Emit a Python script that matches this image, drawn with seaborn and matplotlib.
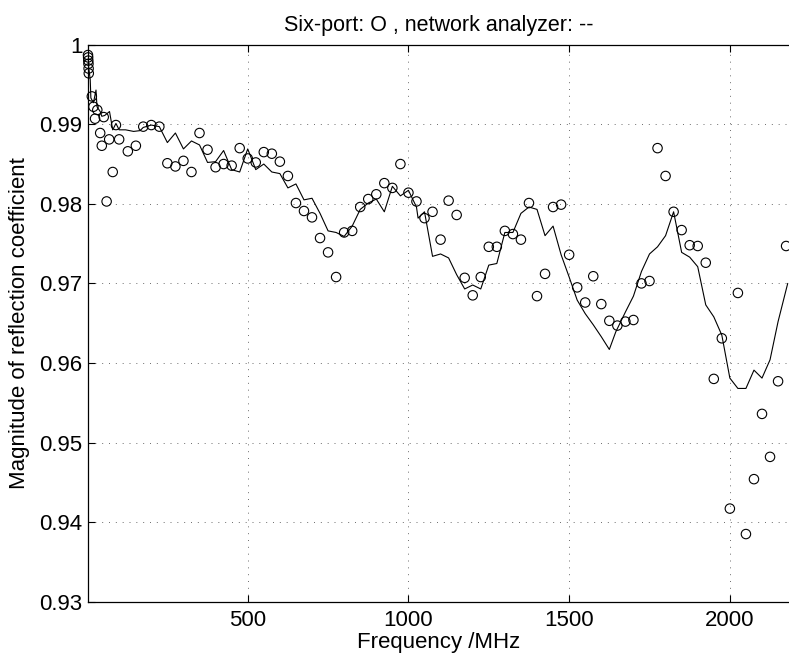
import matplotlib
matplotlib.use("Agg")
import matplotlib.pyplot as plt
import seaborn as sns

# -----------------------------
# DATA
# -----------------------------
# six-port measurement, drawn as open circles
sixport_freq = [3, 3.5, 4, 4.5, 5, 5.5, 15, 20, 25, 32, 41, 46, 52, 61, 69, 80, 90, 100, 127, 152,
                175, 200, 225, 250, 275, 300, 325, 350, 375, 400, 425, 450, 475, 500, 525, 550,
                575, 600, 625, 650, 675, 700, 725, 750, 775, 800, 825, 850, 875, 900, 925, 950,
                975, 1000, 1025, 1050, 1075, 1100, 1125, 1150, 1175, 1200, 1225, 1250, 1275, 1300,
                1325, 1350, 1375, 1400, 1425, 1450, 1475, 1500, 1525, 1550, 1575, 1600, 1625, 1650,
                1675, 1700, 1725, 1750, 1775, 1800, 1825, 1850, 1875, 1900, 1925, 1950, 1975, 2000,
                2025, 2050, 2075, 2100, 2125, 2150, 2175]
sixport_mag = [0.9987, 0.9984, 0.9980, 0.9976, 0.9970, 0.9964, 0.9935, 0.9922, 0.9907, 0.9918,
               0.9889, 0.9873, 0.9909, 0.9803, 0.9881, 0.9840, 0.9899, 0.9881, 0.9866, 0.9873,
               0.9897, 0.9899, 0.9897, 0.9851, 0.9847, 0.9854, 0.9840, 0.9889, 0.9868, 0.9846,
               0.9850, 0.9848, 0.9870, 0.9857, 0.9852, 0.9865, 0.9863, 0.9853, 0.9835, 0.9801,
               0.9791, 0.9783, 0.9757, 0.9739, 0.9708, 0.9764, 0.9766, 0.9796, 0.9806, 0.9812,
               0.9826, 0.9820, 0.9850, 0.9814, 0.9803, 0.9782, 0.9790, 0.9755, 0.9804, 0.9786,
               0.9707, 0.9685, 0.9708, 0.9746, 0.9746, 0.9766, 0.9762, 0.9755, 0.9801, 0.9684,
               0.9712, 0.9796, 0.9799, 0.9736, 0.9695, 0.9676, 0.9709, 0.9674, 0.9653, 0.9647,
               0.9652, 0.9654, 0.9700, 0.9703, 0.9870, 0.9835, 0.9790, 0.9767, 0.9748, 0.9747,
               0.9726, 0.9580, 0.9631, 0.9417, 0.9688, 0.9385, 0.9454, 0.9536, 0.9482, 0.9577,
               0.9747]

# network analyzer, drawn as solid line
na_freq = [3, 5, 10, 12, 20, 28, 31, 41, 46, 55, 70, 80, 90, 100, 120, 145, 165,
           175, 200, 225, 250, 275, 300, 325, 350, 375, 400, 425, 450, 475, 500, 525,
           550, 575, 600, 625, 650, 675, 700, 725, 750, 775, 800, 825, 850, 875, 900,
           925, 950, 975, 1000, 1025, 1030, 1050, 1075, 1100, 1125, 1150, 1175, 1200,
           1225, 1250, 1275, 1300, 1325, 1350, 1375, 1400, 1425, 1450, 1475, 1500, 1525,
           1550, 1575, 1600, 1625, 1645, 1675, 1700, 1725, 1750, 1775, 1800, 1825, 1850,
           1875, 1900, 1925, 1950, 1975, 2000, 2025, 2050, 2075, 2100, 2125, 2150, 2180]
na_mag = [0.9988, 0.9972, 0.9956, 0.9933, 0.9927, 0.9943, 0.9922, 0.9916, 0.9910, 0.9911,
          0.9916, 0.9893, 0.9901, 0.9893, 0.9893, 0.9891, 0.9892,
          0.9896, 0.9899, 0.9897, 0.9877, 0.9889, 0.9869, 0.9879, 0.9874, 0.9852, 0.9853,
          0.9867, 0.9843, 0.9840, 0.9869, 0.9843, 0.9850, 0.9840, 0.9838, 0.9820, 0.9825,
          0.9805, 0.9807, 0.9788, 0.9766, 0.9764, 0.9759, 0.9772, 0.9793, 0.9801, 0.9806,
          0.9790, 0.9822, 0.9810, 0.9817, 0.9796, 0.9782, 0.9790, 0.9734, 0.9737, 0.9732,
          0.9711, 0.9693, 0.9698, 0.9693, 0.9723, 0.9725, 0.9764, 0.9764, 0.9788, 0.9796,
          0.9793, 0.9760, 0.9772, 0.9736, 0.9708, 0.9679, 0.9662, 0.9648, 0.9633, 0.9617,
          0.9639, 0.9664, 0.9684, 0.9715, 0.9737, 0.9746, 0.9760, 0.9790, 0.9739, 0.9733,
          0.9721, 0.9673, 0.9658, 0.9635, 0.9581, 0.9568, 0.9568, 0.9591, 0.9581, 0.9604,
          0.9652, 0.9700]

x_ticks = [500, 1000, 1500, 2000]
y_ticks = [0.93, 0.94, 0.95, 0.96, 0.97, 0.98, 0.99, 1.0]
y_tick_labels = ["0.93", "0.94", "0.95", "0.96", "0.97", "0.98", "0.99", "1"]

# -----------------------------
# STYLE
# -----------------------------
sns.set_theme(style="white")
plt.rcParams['font.family'] = ['Liberation Sans', 'DejaVu Sans']
plt.rcParams['text.color'] = 'black'
plt.rcParams['axes.labelcolor'] = 'black'
FS = 16

fig = plt.figure(figsize=(7.89, 6.62), dpi=100)
ax = fig.add_axes([0.1115, 0.0911, 0.8885, 0.8414])

# -----------------------------
# PLOT
# -----------------------------
sns.lineplot(x=na_freq, y=na_mag, color="black", linewidth=0.8,
             sort=False, estimator=None, ax=ax)
sns.scatterplot(x=sixport_freq, y=sixport_mag, marker="o", s=46,
                facecolors="none", edgecolor="black", linewidth=0.8,
                clip_on=False, zorder=3, ax=ax)

ax.set_xlim(3, 2184)
ax.set_ylim(0.93, 1.0)
ax.set_xticks(x_ticks)
ax.set_xticklabels([str(t) for t in x_ticks])
ax.set_yticks(y_ticks)
ax.set_yticklabels(y_tick_labels)

ax.grid(True, color="0.35", linestyle=(0, (1.2, 7)), linewidth=0.6)
ax.set_axisbelow(True)

for side in ["left", "bottom", "top"]:
    ax.spines[side].set_visible(True)
    ax.spines[side].set_color("black")
    ax.spines[side].set_linewidth(0.9)
ax.spines["right"].set_visible(False)

ax.tick_params(axis="x", direction="in", length=5, width=0.8, top=True,
               bottom=True, labelsize=FS, pad=6, colors="black")
ax.tick_params(axis="y", direction="in", length=5, width=0.8, left=True,
               right=False, labelsize=FS, pad=4, colors="black")

ax.set_title("Six-port: O , network analyzer: --", fontsize=FS - 0.5,
             pad=10, color="black")
ax.set_xlabel("Frequency /MHz", fontsize=FS, labelpad=1)
ax.set_ylabel("Magnitude of reflection coefficient", fontsize=FS, labelpad=7)

fig.savefig("out.png", dpi=100)
